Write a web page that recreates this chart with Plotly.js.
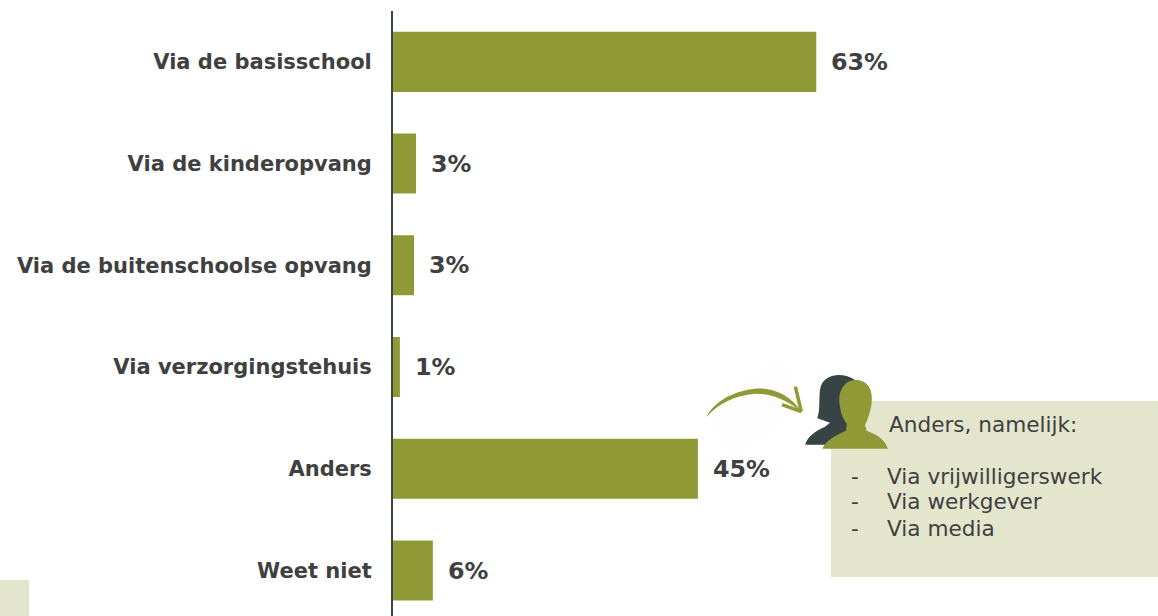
<!DOCTYPE html>
<html><head><meta charset="utf-8">
<script src="https://cdn.plot.ly/plotly-3.0.0.min.js"></script>
<style>html,body{margin:0;padding:0;background:#fff}</style></head>
<body><div id="c" style="width:1158px;height:616px"></div>
<script>
const categories=["Via de basisschool","Via de kinderopvang","Via de buitenschoolse opvang","Via verzorgingstehuis","Anders","Weet niet"];
const values=[63,3.5,3.2,1.1,45.4,6];
const valueLabels=["63%","3%","3%","1%","45%","6%"];
const noteTitle="Anders, namelijk:";
const noteLines=["Via vrijwilligerswerk","Via werkgever","Via media"];
const W=1158,H=616,font="'DejaVu Sans', sans-serif";
const TEXT="#404040",OLIVE="#8f9936",DARK="#374345",PALE="#e3e5cd";
const fx=x=>x/W, fy=y=>1-y/H;
const note=(x,y,text)=>({xref:"paper",yref:"paper",x:fx(x),y:fy(y),text,showarrow:false,xanchor:"left",yanchor:"middle",xshift:-2,font:{family:font,size:21.6,color:TEXT}});
const ann=values.map((v,i)=>({xref:"x",yref:"y",x:v,y:categories[i],text:`<b>${valueLabels[i]}</b>`,showarrow:false,xanchor:"left",yanchor:"middle",xshift:13,font:{family:font,size:23.8,color:TEXT}}));
ann.push(note(889,424,noteTitle));
noteLines.forEach((t,i)=>{const y=[476,501,528][i];ann.push(note(851,y,"-"));ann.push(note(887,y,t));});
// Decoration paths traced in 3x zoom units with origin (690,360)
const P=(pts)=>pts.map(t=>typeof t==="string"?t:`${fx(690+t[0]/3).toFixed(5)},${fy(360+t[1]/3).toFixed(5)}`).join(" ");
const rect=(x0,y0,x1,y1)=>({type:"rect",xref:"paper",yref:"paper",x0:fx(x0),x1:fx(x1),y0:fy(y1),y1:fy(y0),fillcolor:PALE,line:{width:0},layer:"below"});
const deco=(path,fill,line)=>({type:"path",xref:"paper",yref:"paper",path,fillcolor:fill||"rgba(0,0,0,0)",line:line||{width:0},layer:"above"});
const shapes=[
 rect(831,401,1158,577),rect(0,580,29,616),
 {...deco(P(["M",[265,3],"L",[340,130],"L",[135,285],"L",[45,155],"Z"]),"#fdfdfd"),layer:"below"},
 deco(P(["M",[48,172],"C",[75,120],[135,92],[195,86],"C",[250,82],[300,105],[336,157],"C",[295,122],[245,100],[195,101],"C",[135,106],[85,130],[48,172],"Z"]),OLIVE),
 deco(P(["M",[334,155],"L",[316,80]]),null,{color:OLIVE,width:3.5}),
 deco(P(["M",[334,155],"L",[276,134]]),null,{color:OLIVE,width:3.5}),
 deco(P(["M",[346,254],"C",[350,235],[370,215],[405,200],"L",[420,188],"L",[382,175],"C",[392,145],[385,105],[392,80],"C",[400,55],[425,45],[445,45],"C",[465,45],[480,50],[495,60],"L",[500,254],"Z"]),DARK),
 deco(P(["M",[397,266],"C",[405,245],[435,225],[468,212],"L",[470,192],"C",[460,178],[452,160],[450,140],"C",[444,110],[450,85],[470,68],"C",[490,55],[520,58],[535,78],"C",[548,95],[548,125],[541,150],"C",[536,170],[530,185],[525,195],"L",[530,212],"C",[565,225],[585,240],[594,266],"Z"]),OLIVE)
];
Plotly.newPlot("c",[{type:"bar",orientation:"h",y:categories,x:values,width:0.59,marker:{color:OLIVE},hoverinfo:"skip"}],{
width:W,height:H,paper_bgcolor:"#fff",plot_bgcolor:"rgba(0,0,0,0)",showlegend:false,
margin:{l:0,r:0,t:0,b:0},
xaxis:{domain:[392.5/W,1],range:[0,113.8],visible:false,fixedrange:true},
yaxis:{domain:[0,1-11/H],autorange:false,range:[5.447,-0.5],type:"category",categoryorder:"array",categoryarray:categories,showline:true,linecolor:DARK,linewidth:1.5,ticks:"",ticklabelstandoff:15,tickfont:{family:font,size:21,color:TEXT,weight:700},showgrid:false,zeroline:false},
annotations:ann,shapes
},{displayModeBar:false,staticPlot:true});
</script></body></html>
